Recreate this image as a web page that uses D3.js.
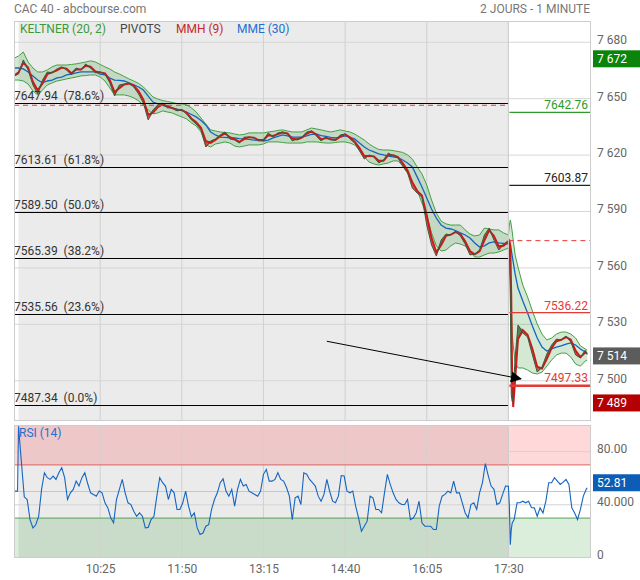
<!DOCTYPE html>
<html><head><meta charset="utf-8">
<script src="https://cdn.jsdelivr.net/npm/d3@7"></script>
<style>
html,body{margin:0;padding:0;background:#fff;}
svg{display:block;font-family:Roboto,"Noto Sans",sans-serif;}
</style></head><body>
<svg id="c" width="640" height="580"></svg>
<script>
// ---------- DATA (minutes from day-1 09:00; day 2 continues after 510 = 17:30) ----------
const minutes = [
-4,0,5,10,15,20,25,30,35,40,
45,50,55,60,65,70,75,80,85,90,
95,100,105,110,115,120,125,130,135,140,
145,150,155,160,165,170,175,180,185,190,
195,200,205,210,215,220,225,230,235,240,
245,250,255,260,265,270,275,280,285,290,
295,300,305,310,315,320,325,330,335,340,
345,350,355,360,365,370,375,380,385,390,
395,400,405,410,415,420,425,430,435,440,
445,450,455,460,465,470,475,480,485,490,
495,500,505,510,511,512,513,514,515,517,
520,525,530,535,540,545,550,555,560,565,
570,575,580,585,590,592];
const close = [
7662.1,7663.1,7670.6,7665.3,7657.3,7652.5,7659.9,7664.2,7663.7,7665.8,
7666.9,7665.3,7662.6,7666.3,7665.3,7668.5,7666.3,7663.7,7664.2,7663.1,
7658.4,7651.4,7657.3,7657.8,7658.4,7656.2,7652.5,7647.7,7638.7,7644.0,
7646.7,7647.7,7645.1,7645.1,7643.5,7644.0,7641.9,7638.7,7636.5,7633.4,
7624.3,7627.5,7628.6,7630.7,7632.3,7628.6,7628.0,7626.4,7629.6,7629.6,
7629.1,7627.5,7628.0,7631.8,7629.6,7631.8,7632.3,7631.2,7627.5,7628.6,
7629.6,7632.3,7632.8,7630.2,7627.5,7629.6,7628.0,7628.0,7630.7,7631.2,
7628.6,7626.4,7622.2,7617.9,7620.1,7619.0,7615.8,7617.4,7621.1,7619.5,
7618.5,7614.2,7610.5,7602.5,7599.8,7597.7,7582.8,7572.2,7566.3,7574.8,
7578.0,7577.5,7579.6,7577.0,7572.7,7566.9,7567.4,7569.5,7577.5,7581.2,
7574.8,7569.5,7572.7,7574.5,7574.0,7542.9,7492.4,7489.0,7494.0,7512.1,
7529.6,7525.4,7523.3,7513.7,7504.6,7507.3,7514.2,7519.0,7522.2,7521.7,
7523.8,7520.6,7513.7,7512.1,7516.3,7514.0];
const mmh = [
7662.5,7664.0,7669.0,7666.5,7659.0,7654.5,7658.0,7663.0,7664.0,7665.0,
7666.5,7666.0,7663.5,7665.5,7665.5,7667.5,7667.0,7664.5,7664.0,7663.5,
7660.0,7653.5,7655.5,7657.5,7658.0,7657.0,7654.0,7649.5,7641.5,7642.5,
7645.5,7647.0,7646.0,7645.0,7644.0,7644.0,7642.5,7639.5,7637.5,7634.5,
7627.5,7626.5,7628.0,7630.0,7631.5,7629.5,7628.5,7627.0,7628.5,7629.5,
7629.3,7628.0,7628.0,7630.5,7630.2,7631.2,7632.0,7631.5,7628.8,7628.3,
7629.2,7631.3,7632.6,7631.0,7628.5,7629.0,7628.5,7628.0,7629.8,7631.0,
7629.5,7627.2,7623.8,7619.5,7619.5,7619.3,7617.0,7617.0,7620.0,7620.0,
7619.0,7615.8,7612.0,7605.5,7601.0,7598.5,7588.0,7576.0,7568.5,7572.0,
7577.0,7577.7,7579.0,7578.0,7574.2,7569.0,7567.2,7568.8,7574.5,7580.0,
7577.0,7571.5,7571.8,7574.0,7574.5,7572.0,7545.0,7500.0,7486.0,7500.0,
7522.0,7527.0,7524.5,7517.0,7507.5,7506.5,7511.5,7517.3,7521.0,7521.8,
7523.2,7521.8,7516.0,7512.6,7515.0,7514.8];
const mme = [
7666.3,7666.3,7665.8,7664.2,7662.1,7659.9,7658.4,7659.4,7659.9,7661.0,
7661.5,7662.6,7663.1,7663.7,7664.2,7664.2,7664.2,7664.2,7663.1,7662.6,
7661.0,7659.9,7659.7,7659.4,7658.4,7657.3,7656.2,7654.6,7651.4,7648.2,
7647.2,7646.4,7645.6,7645.1,7644.5,7643.7,7642.9,7641.6,7640.3,7638.4,
7636.0,7632.3,7630.7,7629.6,7629.4,7629.1,7629.1,7628.8,7628.6,7628.3,
7628.0,7627.8,7627.5,7628.0,7629.1,7629.9,7630.7,7630.2,7629.6,7629.6,
7629.6,7630.2,7631.0,7631.2,7630.4,7629.9,7629.4,7629.1,7629.6,7630.2,
7629.4,7628.6,7626.4,7624.3,7622.7,7621.7,7620.6,7620.1,7619.5,7619.0,
7618.7,7617.4,7615.8,7613.7,7608.4,7603.0,7597.2,7591.3,7586.5,7582.8,
7581.2,7580.7,7579.9,7578.6,7577.5,7575.9,7573.3,7571.1,7571.7,7573.3,
7573.8,7573.3,7573.0,7572.7,7572.7,7572.2,7569.5,7566.3,7563.1,7556.8,
7549.3,7542.4,7536.0,7529.1,7522.7,7517.9,7515.8,7516.9,7517.9,7518.5,
7519.5,7520.1,7519.0,7516.9,7515.3,7514.2];
const kelUp = [
7671.6,7672.7,7674.8,7669.5,7666.3,7664.2,7664.2,7665.3,7666.9,7667.9,
7667.9,7667.9,7668.2,7668.5,7669.0,7669.5,7670.1,7669.5,7668.2,7666.9,
7665.8,7664.2,7663.1,7661.8,7660.5,7659.4,7658.1,7656.2,7653.6,7650.9,
7649.8,7649.0,7648.5,7648.0,7647.4,7647.2,7646.7,7645.1,7642.9,7639.7,
7636.5,7633.4,7632.8,7632.3,7632.0,7631.8,7631.2,7630.7,7631.0,7631.8,
7631.8,7631.8,7631.8,7632.3,7632.6,7633.1,7633.4,7632.8,7632.3,7632.3,
7632.3,7633.4,7634.4,7633.9,7633.4,7632.8,7632.3,7632.8,7633.4,7632.8,
7632.3,7631.2,7629.6,7628.0,7625.9,7624.3,7623.0,7622.7,7622.7,7622.4,
7621.9,7621.4,7620.1,7617.9,7613.7,7610.0,7604.1,7596.1,7589.2,7584.9,
7583.4,7582.8,7582.8,7582.8,7580.2,7578.0,7577.0,7577.5,7581.2,7580.7,
7580.2,7580.2,7578.6,7577.5,7582.8,7585.5,7582.8,7579.1,7574.8,7566.9,
7560.5,7550.9,7544.5,7537.1,7530.2,7524.8,7521.7,7522.7,7524.8,7525.9,
7525.9,7524.8,7522.7,7518.5,7516.9,7516.3];
const kelLo = [
7659.9,7659.9,7659.4,7657.8,7654.1,7652.0,7654.6,7657.3,7658.4,7659.4,
7659.9,7660.5,7661.0,7661.5,7662.1,7662.3,7662.6,7662.6,7661.5,7659.4,
7655.7,7652.0,7652.0,7652.0,7651.4,7650.4,7648.8,7646.7,7644.0,7641.9,
7642.4,7643.5,7642.9,7642.4,7641.3,7640.3,7639.2,7637.1,7635.5,7632.3,
7625.4,7624.3,7625.9,7626.4,7627.0,7626.4,7624.8,7624.3,7624.8,7625.4,
7625.4,7625.4,7625.9,7627.0,7627.0,7627.0,7626.7,7626.4,7626.4,7626.4,
7626.4,7627.0,7627.0,7627.0,7626.7,7626.4,7626.4,7626.7,7627.0,7627.0,
7626.4,7625.4,7622.7,7619.0,7616.3,7615.3,7614.7,7615.3,7615.8,7616.9,
7616.9,7614.2,7610.5,7606.2,7601.4,7594.5,7588.1,7578.6,7571.7,7569.0,
7569.5,7571.7,7573.3,7572.7,7571.7,7568.5,7565.8,7565.8,7566.9,7567.9,
7567.9,7568.5,7569.5,7570.6,7566.9,7553.6,7537.6,7524.3,7519.0,7509.9,
7506.8,7506.8,7505.7,7504.1,7503.6,7504.6,7507.8,7511.0,7513.7,7514.7,
7514.7,7512.6,7508.9,7507.8,7510.5,7511.0];

const rsiMinutes = [
-4,-1,0,3,6,9,12,15,18,21,
24,27,30,33,36,39,42,45,48,51,
54,57,60,63,66,69,72,75,78,81,
84,87,90,93,96,99,102,105,108,111,
114,117,120,123,126,129,132,135,138,141,
144,147,150,153,156,159,162,165,168,171,
174,177,180,183,186,189,192,195,198,201,
204,207,210,213,216,219,222,225,228,231,
234,237,240,243,246,249,252,255,258,261,
264,267,270,273,276,279,282,285,288,291,
294,297,300,303,306,309,312,315,318,321,
324,327,330,333,336,339,342,345,348,351,
354,357,360,363,366,369,372,375,378,381,
384,387,390,393,396,399,402,405,408,411,
414,417,420,423,426,429,432,435,438,441,
444,447,450,453,456,459,462,465,468,471,
474,477,480,483,486,489,492,495,498,501,
504,507,510,511,512,513,514,516,519,522,
525,528,531,534,537,540,543,546,549,552,
555,558,561,564,567,570,573,576,579,582,
585,588,591,592];
const rsi = [
50.3,50.3,99,72,46,44.0,28.9,22.6,25,31.4,
51.6,64.1,60.4,59.1,61.6,59.1,64.1,67.9,60.4,44,
49.0,51.6,57.8,54.1,60.4,64.1,56,49.0,47.8,46.5,
50.3,49.0,41.5,37.7,30.2,26.4,44.0,51.6,59.1,49.0,
41.5,40.2,35.2,31.4,33.9,31.4,22.6,23,28.9,31.4,
46.5,60.4,56.6,54.1,44.0,51.6,49.0,36.5,36.5,41.5,
50.3,39.0,31,33.9,22.6,17.6,18.8,23.9,25.1,36.5,
44.0,49.0,56.6,59.5,50.3,46.5,51.6,39.0,51.6,59.1,
54.1,55.3,50.3,49.0,47.8,46.5,50.3,62.9,66.6,57.8,
57.8,59.1,64.1,59.1,57.8,53,46.5,28.9,45.3,46.5,
40.2,64.1,63,59.1,56.6,54.1,46.5,42.7,47.8,59.1,
50,42.7,41.5,46.5,62,61.6,50.3,49.0,50.3,39.0,
30.2,20.1,23.9,27.7,46.5,45.3,36.5,36.5,34,49.0,
62.9,55.3,49.0,44.0,41.5,40.2,40.2,44.0,28.9,30,
33.9,42.7,26.4,23.9,23.9,23.9,21.4,21.4,39.0,46.5,
47.8,50.3,49.0,57.8,49,49.0,41.5,33.9,30.2,40.2,
41.5,36.5,49.0,56.6,71,62,54.1,51.6,40.2,41.5,
47.8,54.1,54,40,10,21.4,26.4,28.9,41.5,41.5,
42.7,41.5,42.7,38,37.7,31.4,37.7,33.9,42.7,56.6,
56.6,60.4,57.8,55.3,57,59.1,55.3,37.7,33.9,28.9,
36.5,46.5,51.6,52.81];

const fibLevels = [7647.94, 7613.61, 7589.50, 7565.39, 7535.56, 7487.34];
const fibPct = ["78.6%", "61.8%", "50.0%", "38.2%", "23.6%", "0.0%"];
const pivotLevels = [7642.76, 7603.87, 7536.22, 7497.33];
const prevCloses = [7646.5, 7574.5];           // previous closes (day before, day 1)
const yTicks = [7500, 7530, 7560, 7590, 7620, 7650, 7680];
const xTicks = [85, 170, 255, 340, 425, 510];
const xTickLabels = ["10:25", "11:50", "13:15", "14:40", "16:05", "17:30"];
const rsiTicks = [0, 40, 80];
const rsiTickLabels = ["0", "40.000", "80.00"];
const badgeValues = [7672, 7514, 7489];       // high, last, low
const rsiLast = 52.81;
const arrowFrom = [321, 7521];
const arrowTo = [523, 7501];
const dayBreak = 510;

// ---------- LAYOUT ----------
const svg = d3.select("#c");
const L = 14, R = 591, MT = 21, MB = 421, RT = 425, RB = 558;
const x = d3.scaleLinear().domain([-4.7, 596]).range([L, R]);
const y = d3.scaleLinear().domain([7478.6, 7691.3]).range([MB, MT]);
const yr = d3.scaleLinear().domain([0, 100]).range([RB, RT]);
const fmt = d3.formatLocale({decimal: ".", thousands: " ", grouping: [3], currency: ["", ""]});
const fmtTh = fmt.format(",.0f");
const FONT = 12;

// defs
const defs = svg.append("defs");
defs.append("clipPath").attr("id", "clipMain").append("rect")
  .attr("x", L).attr("y", MT).attr("width", R - L).attr("height", MB - MT);
defs.append("clipPath").attr("id", "clipRsi").append("rect")
  .attr("x", L).attr("y", RT).attr("width", R - L).attr("height", RB - RT);
defs.append("marker").attr("id", "arr").attr("viewBox", "0 0 10 10")
  .attr("refX", 9).attr("refY", 5).attr("markerWidth", 11).attr("markerHeight", 11)
  .attr("markerUnits", "userSpaceOnUse").attr("orient", "auto")
  .append("path").attr("d", "M0,0 L10,5 L0,10 z").attr("fill", "#000");

// header
svg.append("text").attr("x", 14).attr("y", 13).attr("font-size", 12).attr("fill", "#777")
  .text("CAC 40 - abcbourse.com");
svg.append("text").attr("x", 590).attr("y", 13).attr("font-size", 12).attr("fill", "#777")
  .attr("text-anchor", "end").text("2 JOURS - 1 MINUTE");

// panel backgrounds
function panelBg(top, bottom) {
  svg.append("rect").attr("x", L).attr("y", top).attr("width", R - L).attr("height", bottom - top).attr("fill", "#fff");
  svg.append("rect").attr("x", x(0)).attr("y", top).attr("width", x(dayBreak) - x(0)).attr("height", bottom - top).attr("fill", "#ebebeb");
}
panelBg(MT, MB);
panelBg(RT, RB);

// RSI zones
svg.append("rect").attr("x", L).attr("y", yr(100)).attr("width", R - L).attr("height", yr(70) - yr(100)).attr("fill", "rgba(255,0,0,0.15)");
svg.append("rect").attr("x", L).attr("y", yr(30)).attr("width", R - L).attr("height", yr(0) - yr(30)).attr("fill", "rgba(0,128,0,0.14)");

// gridlines
const gMain = svg.append("g");
gMain.selectAll("line.h").data(yTicks).join("line")
  .attr("x1", L).attr("x2", R).attr("y1", d => y(d)).attr("y2", d => y(d))
  .attr("stroke", "#d6d6d6").attr("stroke-width", 1);
svg.append("g").selectAll("line").data(rsiTicks.filter(d => d > 0)).join("line")
  .attr("x1", L).attr("x2", R).attr("y1", d => yr(d)).attr("y2", d => yr(d))
  .attr("stroke", "#d3d3d3");
[[MT, MB], [RT, RB]].forEach(([t, b]) => {
  svg.append("g").selectAll("line").data(xTicks).join("line")
    .attr("x1", d => x(d)).attr("x2", d => x(d)).attr("y1", t).attr("y2", b)
    .attr("stroke", "#d0d0d0");
});

// RSI reference lines
svg.append("line").attr("x1", L).attr("x2", R).attr("y1", yr(70)).attr("y2", yr(70)).attr("stroke", "#e06060");
svg.append("line").attr("x1", L).attr("x2", R).attr("y1", yr(30)).attr("y2", yr(30)).attr("stroke", "#5a9f5a");
svg.append("line").attr("x1", L).attr("x2", R).attr("y1", yr(50)).attr("y2", yr(50)).attr("stroke", "#9fd0ff");

// ---------- MAIN SERIES ----------
const data = minutes.map((t, i) => ({t, c: close[i], h: mmh[i], e: mme[i], u: kelUp[i], l: kelLo[i]}));
const plot = svg.append("g").attr("clip-path", "url(#clipMain)");

plot.append("path").datum(data)
  .attr("d", d3.area().x(d => x(d.t)).y0(d => y(d.l)).y1(d => y(d.u)))
  .attr("fill", "#3a9a3a").attr("fill-opacity", 0.22);
["u", "l"].forEach(k => plot.append("path").datum(data)
  .attr("d", d3.line().x(d => x(d.t)).y(d => y(d[k])))
  .attr("fill", "none").attr("stroke", "#43a043").attr("stroke-width", 1));

plot.append("path").datum(data)
  .attr("d", d3.line().x(d => x(d.t)).y(d => y(d.e)))
  .attr("fill", "none").attr("stroke", "#1565c0").attr("stroke-width", 1.3);

plot.append("path").datum(data)
  .attr("d", d3.area().x(d => x(d.t)).y0(d => y(d.h)).y1(d => y(Math.min(d.c, d.h))))
  .attr("fill", "#d81b1b").attr("fill-opacity", 0.75);
plot.append("path").datum(data)
  .attr("d", d3.area().x(d => x(d.t)).y0(d => y(d.h)).y1(d => y(Math.max(d.c, d.h))))
  .attr("fill", "#2f5d2f").attr("fill-opacity", 0.75);
plot.append("path").datum(data)
  .attr("d", d3.line().x(d => x(d.t)).y(d => y(d.h)))
  .attr("fill", "none").attr("stroke", "#cc1a1a").attr("stroke-width", 1.9);
plot.append("path").datum(data)
  .attr("d", d3.line().x(d => x(d.t)).y(d => y(d.c)))
  .attr("fill", "none").attr("stroke", "#3d5a3d").attr("stroke-width", 1);

// Fibonacci lines (day 1)
const gf = svg.append("g");
gf.selectAll("line").data(fibLevels).join("line")
  .attr("x1", L).attr("x2", x(dayBreak)).attr("y1", d => Math.round(y(d)) + 0.5).attr("y2", d => Math.round(y(d)) + 0.5)
  .attr("stroke", "#000").attr("stroke-width", 1);
gf.selectAll("text").data(fibLevels).join("text")
  .attr("x", L).attr("y", d => y(d) - 3).attr("font-size", FONT).attr("fill", "#333")
  .style("white-space", "pre")
  .text((d, i) => d.toFixed(2) + "  (" + fibPct[i] + ")");

// previous closes (dashed red)
svg.append("line").attr("x1", L).attr("x2", x(dayBreak)).attr("y1", y(prevCloses[0])).attr("y2", y(prevCloses[0]))
  .attr("stroke", "#e53935").attr("stroke-dasharray", "5,4");
svg.append("line").attr("x1", x(dayBreak)).attr("x2", R).attr("y1", y(prevCloses[1])).attr("y2", y(prevCloses[1]))
  .attr("stroke", "#e53935").attr("stroke-dasharray", "5,4");

// pivots (day 2)
const pivColor = ["#2e9a2e", "#222", "#e53935", "#e53935"];
const pivWidth = [1.2, 1.2, 1.2, 2.5];
const gp = svg.append("g");
gp.selectAll("line").data(pivotLevels).join("line")
  .attr("x1", x(dayBreak) + 1).attr("x2", R).attr("y1", d => y(d)).attr("y2", d => y(d))
  .attr("stroke", (d, i) => pivColor[i]).attr("stroke-width", (d, i) => pivWidth[i]);
gp.selectAll("text").data(pivotLevels).join("text")
  .attr("x", 588).attr("y", (d, i) => y(d) - (i === 3 ? 4 : 3)).attr("text-anchor", "end")
  .attr("font-size", FONT).attr("fill", (d, i) => i === 1 ? "#222" : pivColor[i])
  .text(d => d.toFixed(2));

// day boundary line
svg.append("line").attr("x1", x(dayBreak)).attr("x2", x(dayBreak)).attr("y1", MT).attr("y2", MB).attr("stroke", "#cfcfcf");
svg.append("line").attr("x1", x(dayBreak)).attr("x2", x(dayBreak)).attr("y1", RT).attr("y2", RB).attr("stroke", "#cfcfcf");

// arrow annotation
svg.append("line")
  .attr("x1", x(arrowFrom[0])).attr("y1", y(arrowFrom[1]))
  .attr("x2", x(arrowTo[0])).attr("y2", y(arrowTo[1]))
  .attr("stroke", "#000").attr("stroke-width", 1).attr("marker-end", "url(#arr)");

// legend
const legend = [["KELTNER (20, 2)", "#3a9a3a", 20], ["PIVOTS", "#444", 120], ["MMH (9)", "#c62828", 176], ["MME (30)", "#1e6fd0", 237]];
svg.append("g").selectAll("text").data(legend).join("text")
  .attr("x", d => d[2]).attr("y", 33).attr("font-size", FONT).attr("fill", d => d[1]).text(d => d[0]);

// ---------- RSI ----------
const rsiData = rsiMinutes.map((t, i) => ({t, v: rsi[i]}));
svg.append("g").attr("clip-path", "url(#clipRsi)").append("path").datum(rsiData)
  .attr("d", d3.line().x(d => x(d.t)).y(d => yr(d.v)))
  .attr("fill", "none").attr("stroke", "#1565c0").attr("stroke-width", 1.1);
svg.append("text").attr("x", 19).attr("y", 437).attr("font-size", FONT).attr("fill", "#1e6fd0").text("RSI (14)");

// panel borders
[[MT, MB], [RT, RB]].forEach(([t, b]) => {
  svg.append("rect").attr("x", L + 0.5).attr("y", t + 0.5).attr("width", R - L - 1).attr("height", b - t - 1)
    .attr("fill", "none").attr("stroke", "#cccccc");
});

// ---------- AXES ----------
const axR = d3.axisRight(y).tickValues(yTicks).tickSize(0).tickPadding(6).tickFormat(d => fmtTh(d));
const gy = svg.append("g").attr("transform", `translate(${R},-2.5)`).call(axR);
gy.select(".domain").remove();
gy.selectAll("text").attr("font-size", FONT).attr("fill", "#666").attr("font-family", "Roboto");

const axRr = d3.axisRight(yr).tickValues(rsiTicks).tickSize(0).tickPadding(6).tickFormat((d, i) => rsiTickLabels[i]);
const gyr = svg.append("g").attr("transform", `translate(${R},-3)`).call(axRr);
gyr.select(".domain").remove();
gyr.selectAll("text").attr("font-size", FONT).attr("fill", "#666").attr("font-family", "Roboto");

const axB = d3.axisBottom(x).tickValues(xTicks).tickSize(0).tickPadding(6).tickFormat((d, i) => xTickLabels[i]);
const gx = svg.append("g").attr("transform", `translate(0,${RB})`).call(axB);
gx.select(".domain").remove();
gx.selectAll("text").attr("font-size", FONT).attr("fill", "#666").attr("font-family", "Roboto");

// badges
const badgeFill = ["#0b840b", "#5c5c5c", "#b40000"];
const gb = svg.append("g");
badgeValues.forEach((v, i) => {
  const cy = y(v) + 1.5;
  gb.append("rect").attr("x", 593).attr("y", cy - 8.5).attr("width", 47).attr("height", 17).attr("fill", badgeFill[i]);
  gb.append("text").attr("x", 597).attr("y", cy).attr("dy", "0.35em").attr("font-size", FONT).attr("fill", "#fff").text(fmtTh(v));
});
{
  const cy = yr(rsiLast) - 5;
  gb.append("rect").attr("x", 593).attr("y", cy - 8.5).attr("width", 47).attr("height", 17).attr("fill", "#0d5cb6");
  gb.append("text").attr("x", 597).attr("y", cy).attr("dy", "0.35em").attr("font-size", FONT).attr("fill", "#fff").text(rsiLast.toFixed(2));
}
</script>
</body></html>
